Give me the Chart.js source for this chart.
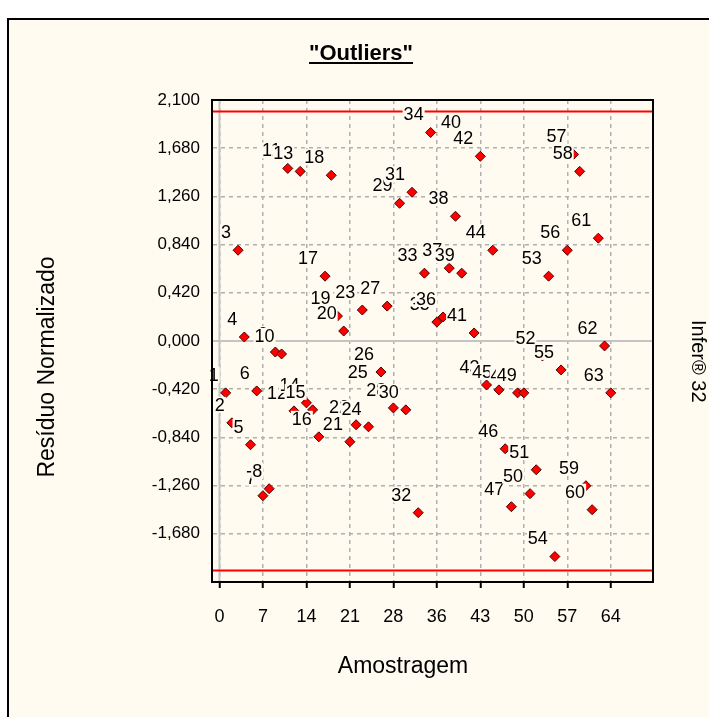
<!DOCTYPE html>
<html>
<head>
<meta charset="utf-8">
<script src="https://cdn.jsdelivr.net/npm/chart.js"></script>
<style>
html, body { margin: 0; padding: 0; background: #fff; overflow: hidden; }
#wrap { position: absolute; left: 0; top: 0; width: 709px; height: 717px; }
</style>
</head>
<body>
<div id="wrap"><canvas id="outliersChart" width="709" height="717"></canvas></div>
<script>
// sample numbers (x) and normalized residuals (y)
const sampleIds = [
  1, 2, 3, 4, 5, 6, 7, 8, 9, 10,
  11, 12, 13, 14, 15, 16, 17, 18, 19, 20,
  21, 22, 23, 24, 25, 26, 27, 28, 29, 30,
  31, 32, 33, 34, 35, 36, 37, 38, 39, 40,
  41, 42, 43, 44, 45, 46, 47, 48, 49, 50,
  51, 52, 53, 54, 55, 56, 57, 58, 59, 60,
  61, 62, 63
];
const residuals = [
  -0.452, -0.713, 0.791, 0.035, -0.904, -0.435, -1.348, -1.287, -0.096, -0.113,
  1.504, -0.609, 1.478, -0.539, -0.600, -0.835, 0.565, 1.444, 0.217, 0.087,
  -0.878, -0.730, 0.270, -0.748, -0.426, -0.270, 0.304, -0.583, 1.200, -0.600,
  1.296, -1.496, 0.591, 1.817, 0.165, 0.209, 0.635, 1.087, 0.591, 1.748,
  0.070, 1.609, -0.383, 0.791, -0.426, -0.939, -1.444, -0.452, -0.452, -1.330,
  -1.122, -0.130, 0.565, -1.878, -0.252, 0.791, 1.626, 1.478, -1.261, -1.470,
  0.896, -0.043, -0.452
];
const xTickValues = [0, 7, 14, 21, 28, 35, 42, 49, 56, 63];
const xTickLabels = ['0', '7', '14', '21', '28', '36', '43', '50', '57', '64'];
const yTickValues = [2.1, 1.68, 1.26, 0.84, 0.42, 0, -0.42, -0.84, -1.26, -1.68, -2.1];
const limitValues = [2, -2];
const xMin = -1.2, xMax = 69.8;
const yMin = -2.1, yMax = 2.1;

const cream = '#fffbf0';
const fontFamily = '"Liberation Sans", Arial, sans-serif';

const panel = {
  id: 'panel',
  beforeDraw(chart) {
    const ctx = chart.ctx;
    ctx.save();
    ctx.fillStyle = '#fff';
    ctx.fillRect(0, 0, chart.width, chart.height);
    ctx.fillStyle = cream;
    ctx.fillRect(7, 18, chart.width - 7, chart.height - 18);
    ctx.strokeStyle = '#000';
    ctx.lineWidth = 2;
    ctx.beginPath();
    ctx.moveTo(8, chart.height);
    ctx.lineTo(8, 19);
    ctx.lineTo(chart.width, 19);
    ctx.stroke();
    ctx.restore();
  }
};

const zeroLines = {
  id: 'zeroLines',
  beforeDatasetsDraw(chart) {
    const {ctx, chartArea, scales} = chart;
    const x0 = scales.x.getPixelForValue(0);
    const y0 = scales.y.getPixelForValue(0);
    ctx.save();
    ctx.strokeStyle = '#c4c4c4';
    ctx.lineWidth = 2;
    ctx.beginPath();
    ctx.moveTo(x0, chartArea.top);
    ctx.lineTo(x0, chartArea.bottom);
    ctx.moveTo(chartArea.left, y0);
    ctx.lineTo(chartArea.right, y0);
    ctx.stroke();
    ctx.restore();
  }
};

// number marks with an opaque box, later ones cover earlier ones
const pointLabels = {
  id: 'pointLabels',
  afterDatasetsDraw(chart) {
    const ctx = chart.ctx;
    const meta = chart.getDatasetMeta(2);
    ctx.save();
    ctx.font = '18px ' + fontFamily;
    ctx.textAlign = 'right';
    ctx.textBaseline = 'middle';
    meta.data.forEach((pt, i) => {
      const txt = String(sampleIds[i]);
      const w = ctx.measureText(txt).width;
      const rx = pt.x - 7;
      const cy = pt.y - 18;
      ctx.fillStyle = cream;
      ctx.fillRect(rx - w - 1, cy - 8, w + 2, 16);
      ctx.fillStyle = '#000';
      ctx.fillText(txt, rx, cy + 1);
    });
    ctx.restore();
  }
};

const frameAndTexts = {
  id: 'frameAndTexts',
  afterDraw(chart) {
    const {ctx, chartArea} = chart;
    ctx.save();
    ctx.strokeStyle = '#000';
    ctx.lineWidth = 2;
    ctx.strokeRect(chartArea.left, chartArea.top, chartArea.right - chartArea.left, chartArea.bottom - chartArea.top);

    // title, underlined
    ctx.fillStyle = '#000';
    ctx.font = 'bold 22px "Liberation Sans Narrow", ' + fontFamily;
    ctx.textAlign = 'center';
    ctx.textBaseline = 'alphabetic';
    const title = '"Outliers"';
    const tw = ctx.measureText(title).width;
    ctx.fillText(title, 361, 60);
    ctx.fillRect(361 - tw / 2, 62, tw, 2);

    // axis titles
    ctx.font = '23px ' + fontFamily;
    ctx.textBaseline = 'middle';
    ctx.fillText('Amostragem', 403, 667);

    ctx.save();
    ctx.translate(48, 367);
    ctx.rotate(-Math.PI / 2);
    ctx.fillText('Resíduo Normalizado', 0, 0);
    ctx.restore();

    // side text
    ctx.font = '20px ' + fontFamily;
    ctx.textBaseline = 'alphabetic';
    ctx.translate(692, 320);
    ctx.rotate(Math.PI / 2);
    ctx.textAlign = 'left';
    ctx.fillText('Infer® 32', 0, 0);
    ctx.restore();
  }
};

const ctx = document.getElementById('outliersChart').getContext('2d');

new Chart(ctx, {
  type: 'scatter',
  data: {
    datasets: [
      {
        type: 'line',
        data: [{x: xMin, y: limitValues[0]}, {x: xMax, y: limitValues[0]}],
        borderColor: '#ff0000',
        borderWidth: 2,
        pointRadius: 0
      },
      {
        type: 'line',
        data: [{x: xMin, y: limitValues[1]}, {x: xMax, y: limitValues[1]}],
        borderColor: '#ff0000',
        borderWidth: 2,
        pointRadius: 0
      },
      {
        label: 'Resíduo',
        data: sampleIds.map((id, i) => ({x: id, y: residuals[i]})),
        pointStyle: 'rectRot',
        pointRadius: 5,
        backgroundColor: '#ff0000',
        borderColor: '#500000',
        borderWidth: 1
      }
    ]
  },
  options: {
    responsive: false,
    animation: false,
    devicePixelRatio: 1,
    layout: { padding: { left: 0, top: 100, right: 56, bottom: 0 } },
    plugins: {
      legend: { display: false },
      tooltip: { enabled: false }
    },
    scales: {
      x: {
        type: 'linear',
        min: xMin,
        max: xMax,
        afterBuildTicks: scale => { scale.ticks = xTickValues.map(v => ({value: v})); },
        afterFit: scale => { scale.height = 135; },
        ticks: {
          color: '#000',
          font: { size: 18, family: fontFamily },
          padding: 18,
          maxRotation: 0,
          autoSkip: false,
          callback: (value, index) => xTickLabels[index]
        },
        grid: {
          color: '#b0b0b0',
          lineWidth: 1.5,
          drawTicks: true,
          tickLength: 6,
          tickColor: '#000',
          tickWidth: 2
        },
        border: { display: true, color: '#000', width: 2, dash: [4, 4] },
        title: { display: false }
      },
      y: {
        type: 'linear',
        min: yMin,
        max: yMax,
        afterBuildTicks: scale => { scale.ticks = yTickValues.map(v => ({value: v})); },
        afterFit: scale => { scale.width = 212; },
        ticks: {
          color: '#000',
          font: { size: 17, family: fontFamily },
          padding: 12,
          autoSkip: false,
          callback: value => (value <= yMin + 1e-9 ? '' : value.toFixed(3).replace('.', ','))
        },
        grid: {
          color: '#b0b0b0',
          lineWidth: 1.5,
          drawTicks: false
        },
        border: { display: true, color: '#000', width: 2, dash: [4, 4] },
        title: { display: false }
      }
    }
  },
  plugins: [panel, zeroLines, pointLabels, frameAndTexts]
});
</script>
</body>
</html>
